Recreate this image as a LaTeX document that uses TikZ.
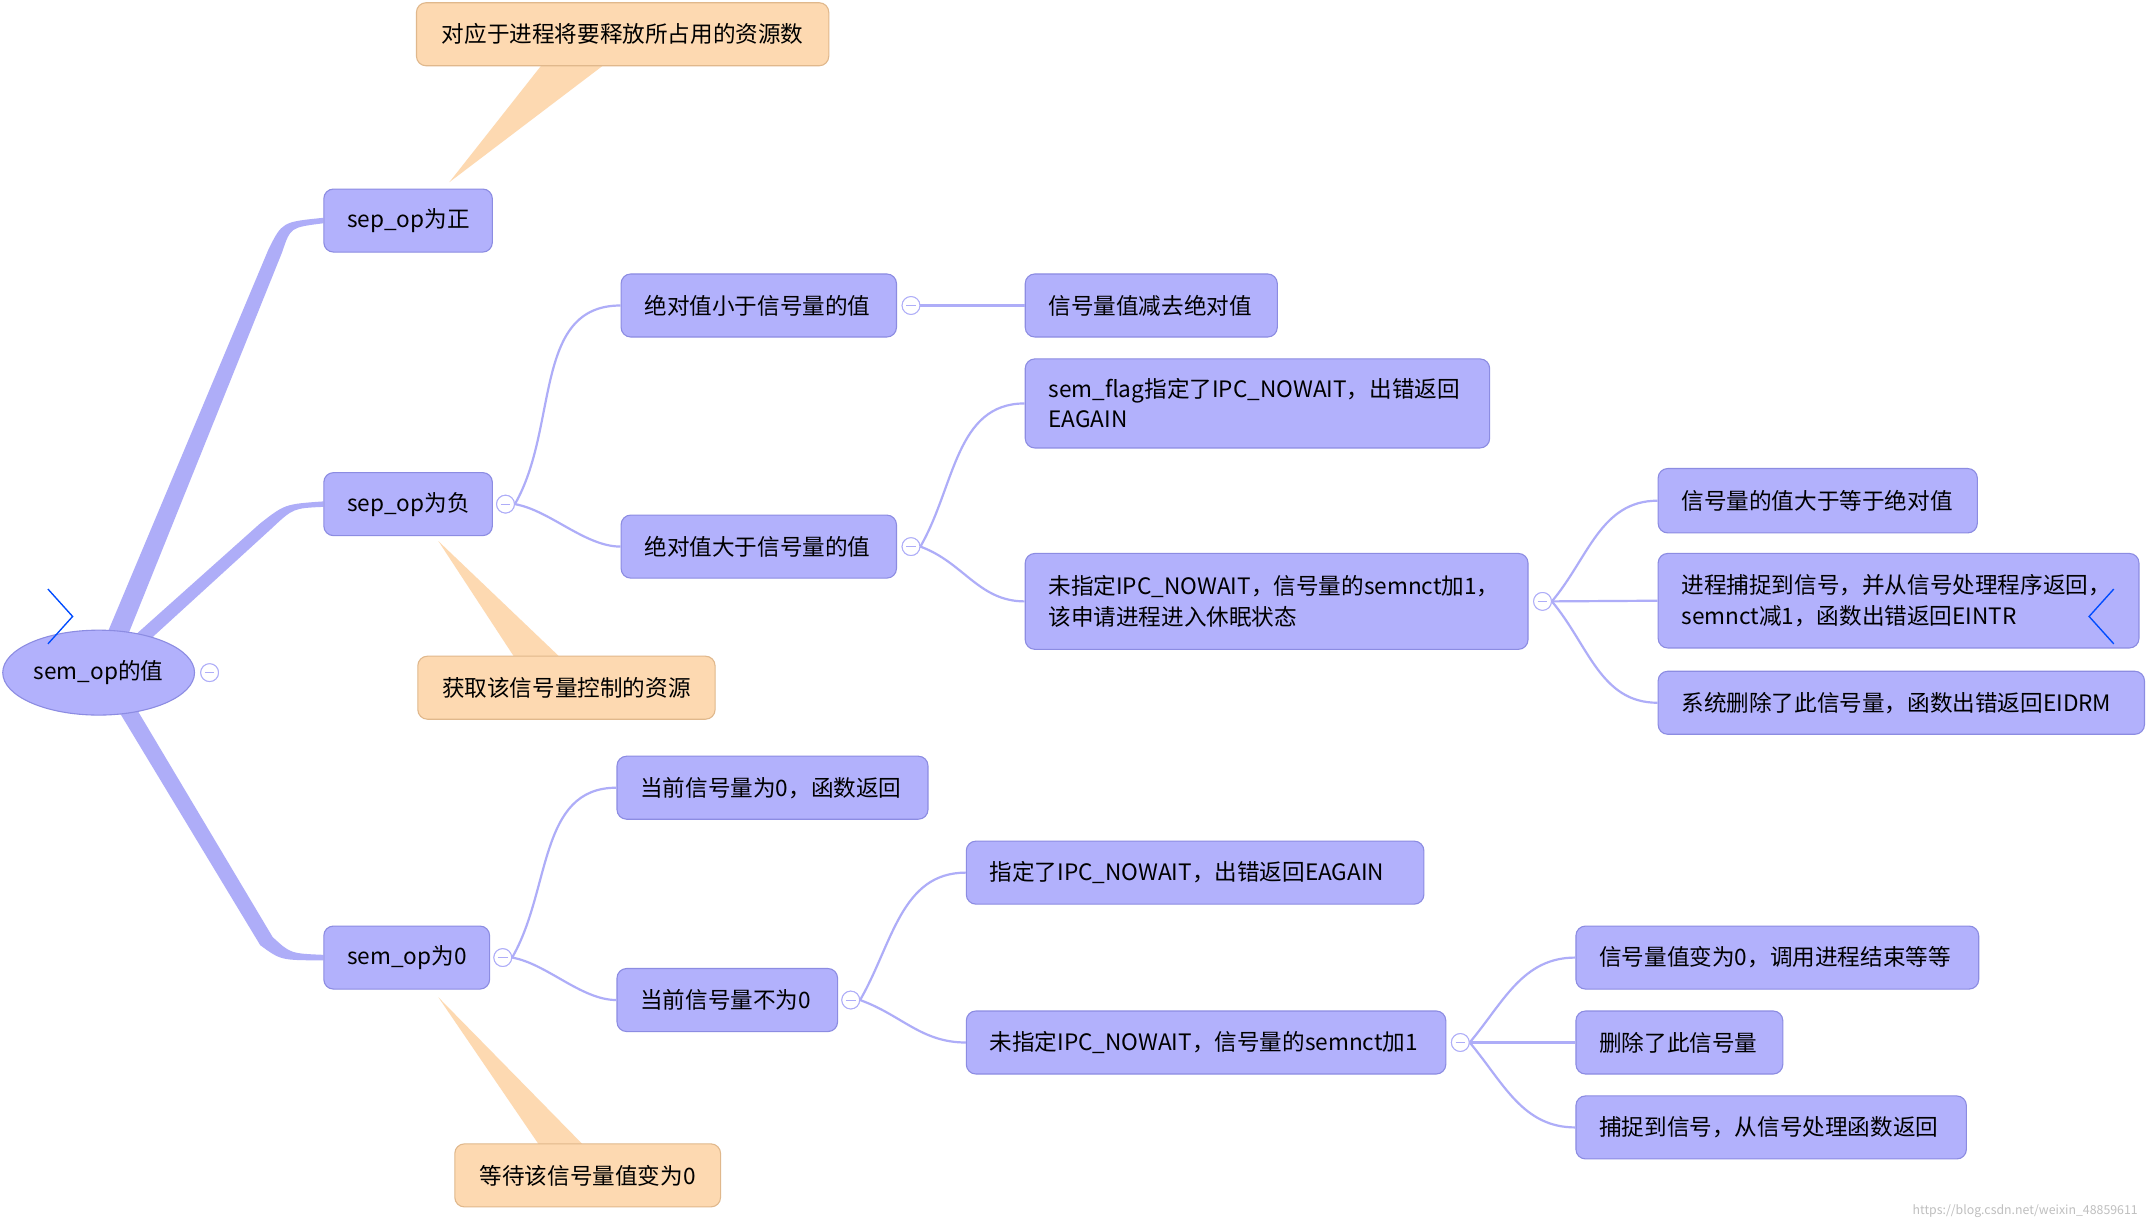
\documentclass[tikz,border=0pt]{standalone}
\usepackage{fontspec}
\usetikzlibrary{shapes.geometric}
\setmainfont{Noto Sans CJK SC}
\begin{document}
\begin{tikzpicture}[x=1pt,y=-1pt,
  bx/.style={draw=bord,fill=boxc,rounded corners=7pt,line width=0.8pt,font=\fontsize{16.5}{22}\selectfont,align=left,inner xsep=17pt,inner ysep=0pt,anchor=west},
  nt/.style={draw=ntb,fill=ntc,rounded corners=7pt,line width=0.8pt,font=\fontsize{16.5}{22}\selectfont,inner sep=0pt},
  ln/.style={draw=lnc,line width=1.6pt},
  cc/.style={circle,draw=lnc,fill=white,line width=0.7pt,minimum size=13pt,inner sep=0pt}]
\definecolor{boxc}{HTML}{B2B1FC}
\definecolor{bord}{HTML}{8C8CE2}
\definecolor{lnc}{HTML}{AEADF8}
\definecolor{ntc}{HTML}{FDD9B1}
\definecolor{ntb}{HTML}{E0B88C}
\fill[white] (0,0) rectangle (1568,897);
\useasboundingbox (0,0) rectangle (1568,897);
\newcommand{\bx}[6]{\node[bx,minimum height={#5-#3},text width={#4-#2-34}] (#1) at (#2,{(#3+#5)/2}) {#6};}
% note wedges
\fill[ntc] (395,48) -- (440,48) -- (328,133) -- cycle;
\fill[ntc] (320,395) -- (375,479) -- (408,479) -- cycle;
\fill[ntc] (320,728) -- (393,835) -- (425,835) -- cycle;
\node[nt,minimum width=301pt,minimum height=46pt] (n1) at (454.5,25) {对应于进程将要释放所占用的资源数};
\node[nt,minimum width=217pt,minimum height=46pt] (n2) at (413.5,502) {获取该信号量控制的资源};
\node[nt,minimum width=194pt,minimum height=46pt] (n3) at (429,858) {等待该信号量值变为0};
% thick tapered connectors
\fill[lnc] (78,463) -- (196,182) .. controls (206,162) .. (236,159) -- (236,163) .. controls (212,166) .. (206,184) -- (92,467) -- cycle;
\fill[lnc] (96,466) -- (190,382) .. controls (208,368) .. (236,366) -- (236,370) .. controls (214,371) .. (198,386) -- (106,470) -- cycle;
\fill[lnc] (86,518) -- (190,690) .. controls (205,701) .. (236,701) -- (236,697) .. controls (212,696) .. (199,684) -- (100,518) -- cycle;
% root
\node[ellipse,draw=bord,fill=boxc,line width=0.8pt,minimum width=140pt,minimum height=62pt,inner sep=0pt,font=\fontsize{16.5}{22}\selectfont] (root) at (72,491) {sem\_op的值};
% boxes
\bx{a}{236}{138}{359}{184}{sep\_op为正}
\bx{b}{236}{345}{359}{391}{sep\_op为负}
\bx{c}{236}{676}{357}{722}{sem\_op为0}
\bx{b1}{453}{200}{654}{246}{绝对值小于信号量的值}
\bx{b11}{748}{200}{932}{246}{信号量值减去绝对值}
\bx{b2}{453}{376}{654}{422}{绝对值大于信号量的值}
\bx{b21}{748}{262}{1087}{327}{sem\_flag指定了IPC\_NOWAIT，出错返回\\EAGAIN}
\bx{b22}{748}{404}{1115}{474}{未指定IPC\_NOWAIT，信号量的semnct加1，\\该申请进程进入休眠状态}
\bx{b221}{1210}{342}{1443}{389}{信号量的值大于等于绝对值}
\bx{b222}{1210}{404}{1561}{473}{进程捕捉到信号，并从信号处理程序返回，\\semnct减1，函数出错返回EINTR}
\bx{b223}{1210}{490}{1565}{536}{系统删除了此信号量，函数出错返回EIDRM}
\bx{c1}{450}{552}{677}{598}{当前信号量为0，函数返回}
\bx{c2}{450}{707}{611}{753}{当前信号量不为0}
\bx{c21}{705}{614}{1039}{660}{指定了IPC\_NOWAIT，出错返回EAGAIN}
\bx{c22}{705}{738}{1055}{784}{未指定IPC\_NOWAIT，信号量的semnct加1}
\bx{c221}{1150}{676}{1444}{722}{信号量值变为0，调用进程结束等等}
\bx{c222}{1150}{738}{1301}{784}{删除了此信号量}
\bx{c223}{1150}{800}{1435}{846}{捕捉到信号，从信号处理函数返回}
% collapse circles
\foreach \n/\x/\y in {k0/153/491,kb/369/368,kb1/665/223,kb2/665/399,kb22/1126/439,kc/367/699,kc2/621/730,kc22/1066/761}
  \node[cc] (\n) at (\x,\y) {};
% thin connectors
\draw[ln] (kb1.east) -- (b11.west);
\draw[ln] (kb.east) to[out=-10,in=180,looseness=0.8] (b2.west);
\draw[ln] (kb.east) to[out=60,in=180] (b1.west);
\draw[ln] (kb2.east) to[out=60,in=180] (b21.west);
\draw[ln] (kb2.east) to[out=-20,in=180] (b22.west);
\draw[ln] (kb22.east) to[out=50,in=180] (b221.west);
\draw[ln] (kb22.east) -- (b222.west);
\draw[ln] (kb22.east) to[out=-50,in=180] (b223.west);
\draw[ln] (kc.east) to[out=60,in=180] (c1.west);
\draw[ln] (kc.east) to[out=-10,in=180,looseness=0.8] (c2.west);
\draw[ln] (kc2.east) to[out=60,in=180] (c21.west);
\draw[ln] (kc2.east) to[out=-20,in=180] (c22.west);
\draw[ln] (kc22.east) to[out=50,in=180] (c221.west);
\draw[ln] (kc22.east) -- (c222.west);
\draw[ln] (kc22.east) to[out=-50,in=180] (c223.west);
% redraw circles on top with minus
\foreach \n in {k0,kb,kb1,kb2,kb22,kc,kc2,kc22}{
  \node[cc] at (\n) {};
  \draw[lnc,line width=0.7pt] ([xshift=-3.5pt]\n.center) -- ([xshift=3.5pt]\n.center);}
% blue chevrons
\draw[blue!70!cyan,line width=1pt] (35,430) -- (53,450) -- (35,470);
\draw[blue!70!cyan,line width=1pt] (1543,430) -- (1525,450) -- (1543,470);
\node[anchor=east,text=gray!50,font=\fontsize{9}{11}\selectfont] (wm) at (1564,884) {https://blog.csdn.net/weixin\_48859611};
\end{tikzpicture}
\end{document}
